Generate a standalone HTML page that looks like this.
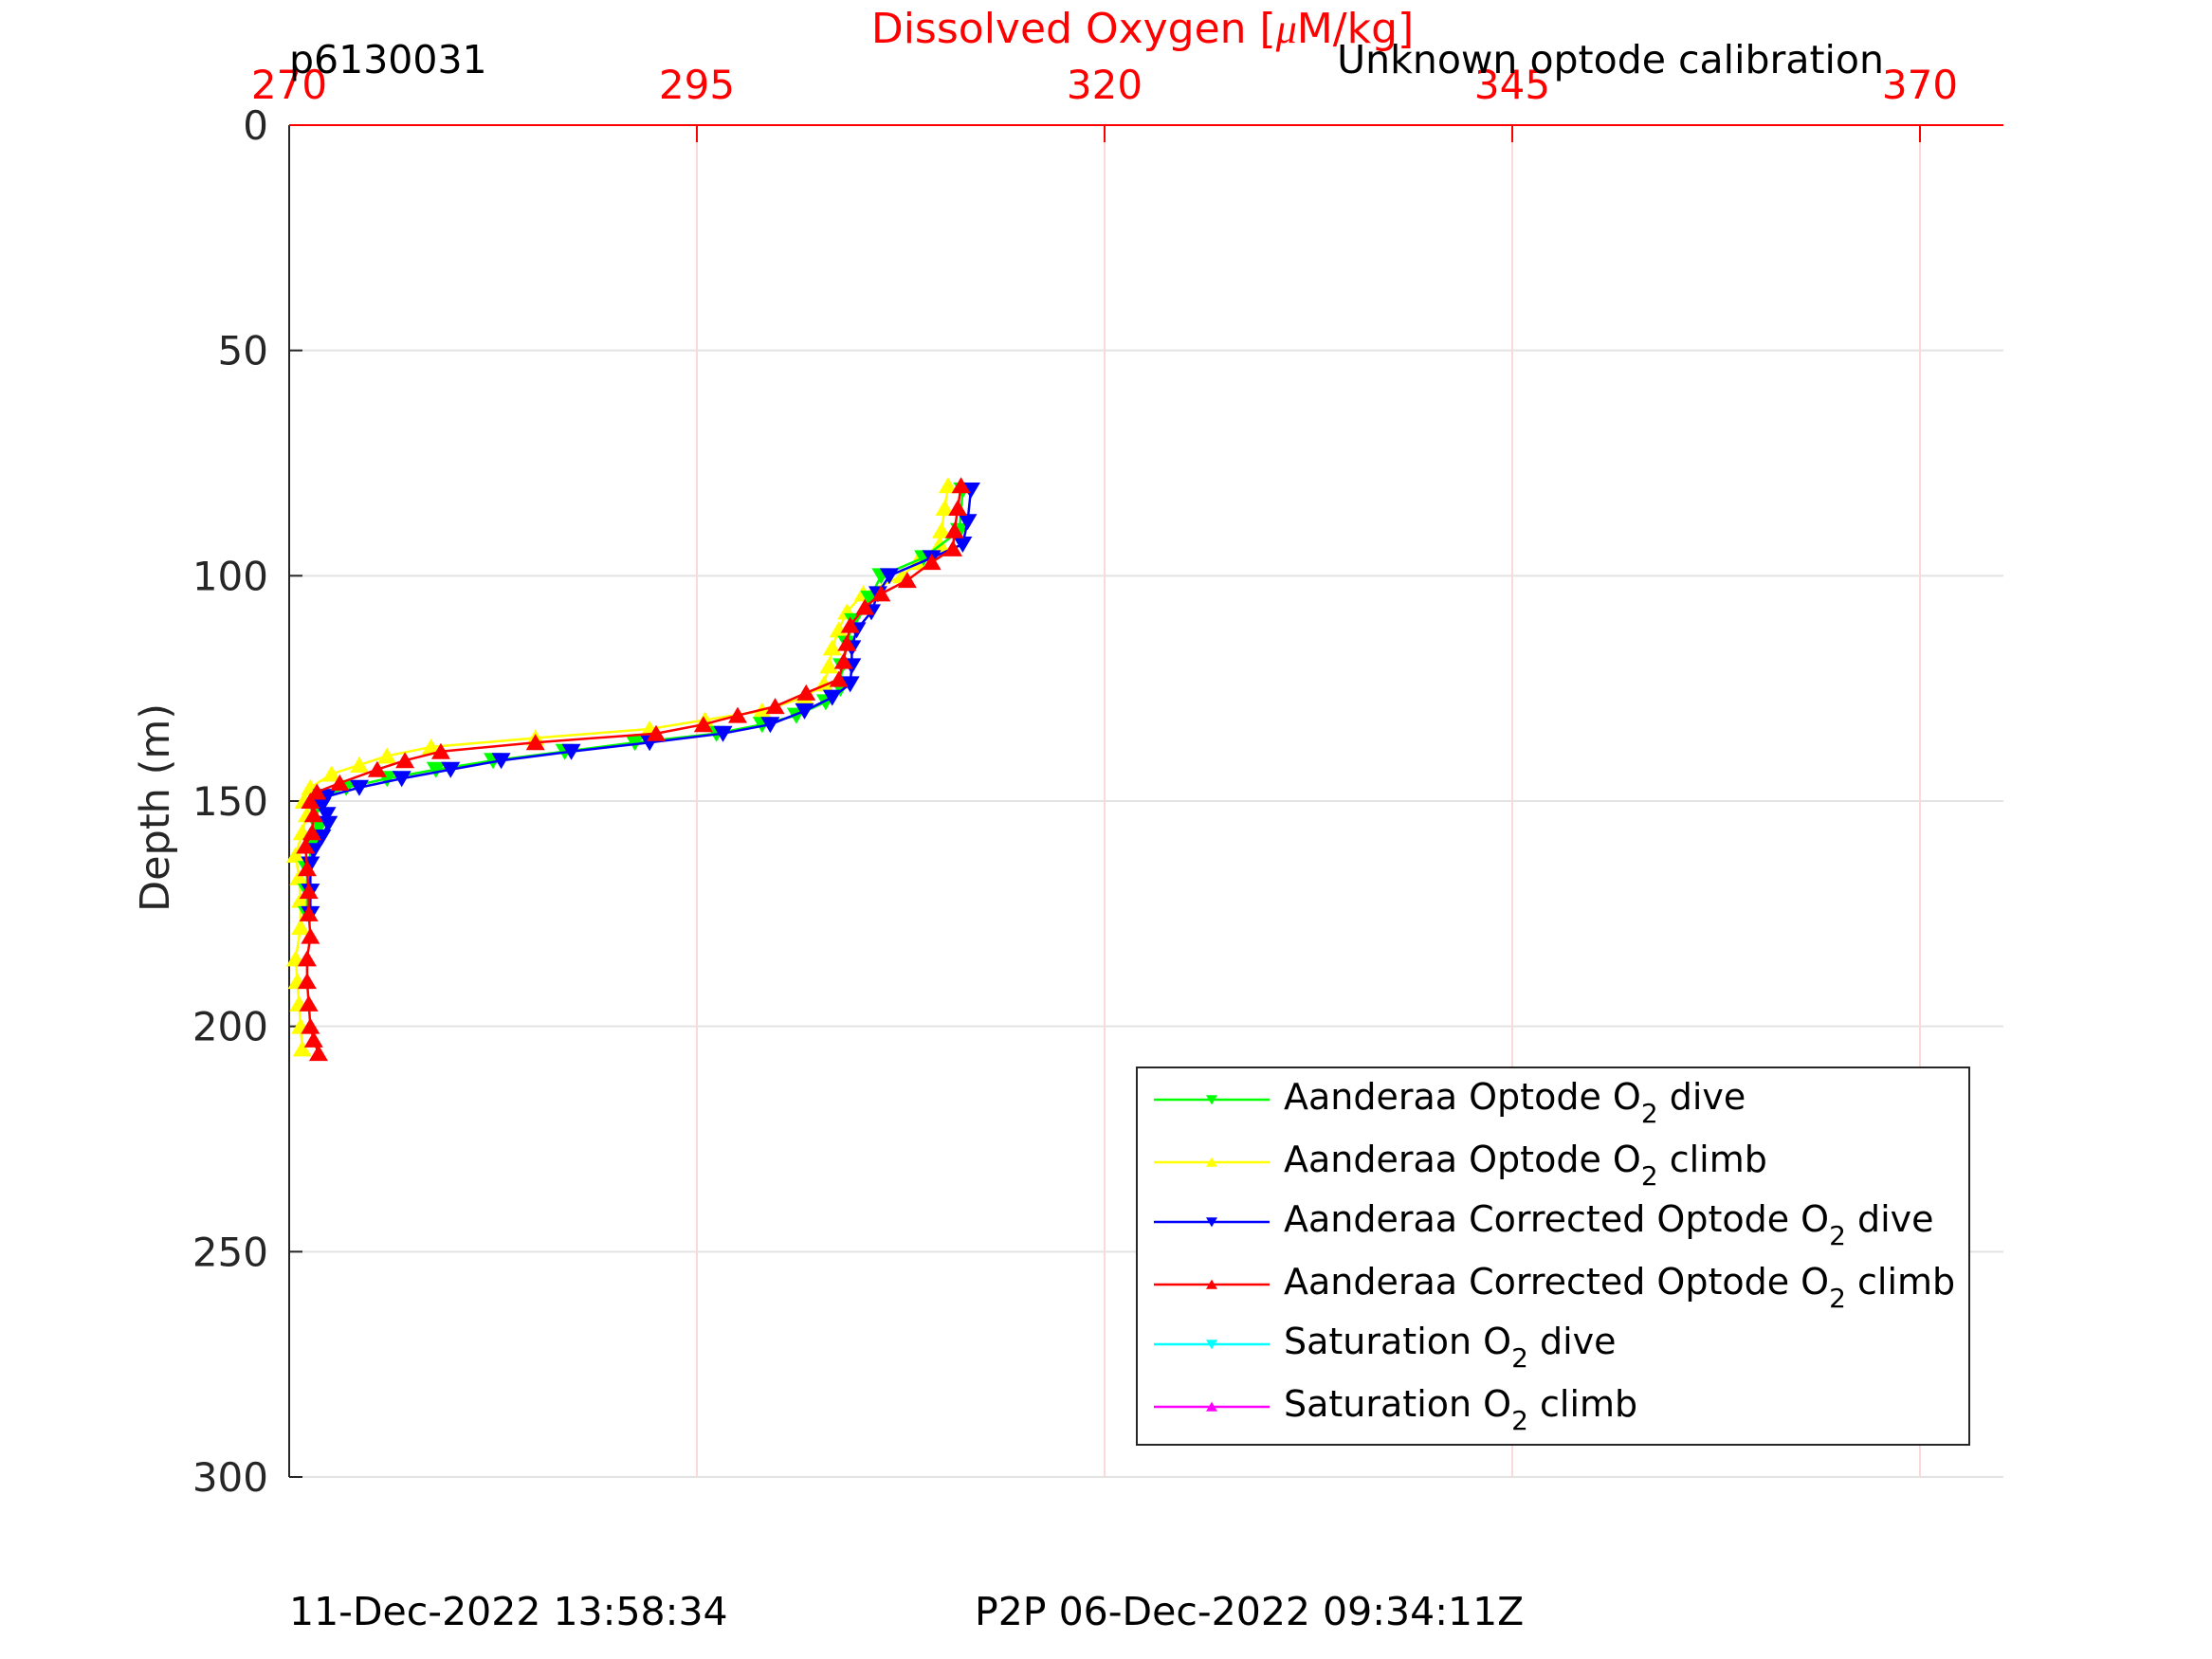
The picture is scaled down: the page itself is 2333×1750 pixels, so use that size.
<!DOCTYPE html>
<html><head><meta charset="utf-8"><style>
body{margin:0;background:#fff;}
svg{display:block;font-family:"DejaVu Sans","Liberation Sans",sans-serif;}
</style></head><body>
<svg id="chart" width="2333" height="1750" viewBox="0 0 2333 1750" xmlns="http://www.w3.org/2000/svg">
<rect width="2333" height="1750" fill="#fff"/>
<g id="grid"></g>
<g id="axes"></g>
<g id="series"></g>
<text x="1205" y="45" font-size="44" fill="#ff0000" text-anchor="middle">Dissolved Oxygen [<tspan font-style="italic" font-family="Liberation Serif, serif">μ</tspan>M/kg]</text>
<text x="305" y="77" font-size="41" fill="#000">p6130031</text>
<text x="1987" y="77" font-size="41" fill="#000" text-anchor="end">Unknown optode calibration</text>
<text x="0" y="0" font-size="43" fill="#262626" text-anchor="middle" transform="translate(178,852) rotate(-90)">Depth (m)</text>
<text x="305" y="1714" font-size="41" fill="#000">11-Dec-2022 13:58:34</text>
<text x="1028" y="1714" font-size="41" fill="#000">P2P 06-Dec-2022 09:34:11Z</text>
<g id="legend"></g>
</svg>
<script>
const xTicks=[270,295,320,345,370];
const yTicks=[0,50,100,150,200,250,300];
const greenDepth=[81,90,96,100,105,110,115,120,125,128,131,133,135,137,139,141,143,145,147,149,152,156,160,165,170,175];
const greenO2=[311.3,311.1,308.9,306.3,305.6,304.6,304.2,303.9,303.8,302.9,301.1,299.0,296.2,291.2,286.9,282.5,279.0,276.0,273.5,272.0,271.6,271.8,271.4,271.1,271.1,271.1];
const yellowDepth=[80,85,90,93,97,100,104,108,112,116,120,124,127,130,132,134,136,138,140,142,144,147,150,153,157,162,167,172,178,185,190,195,200,205];
const yellowO2=[310.4,310.2,310.0,309.9,308.5,307.6,305.2,304.2,303.7,303.3,303.1,302.8,301.6,299.0,295.5,292.1,285.1,278.7,276.0,274.3,272.6,271.3,270.9,271.1,270.8,270.4,270.6,270.7,270.7,270.4,270.5,270.6,270.7,270.8];
const blueDepth=[81,88,93,96,100,104,108,112,116,120,124,127,130,133,135,137,139,141,143,145,147,149,151,153,155,158,161,164,170,175];
const blueO2=[311.8,311.6,311.3,309.4,306.8,306.1,305.7,304.8,304.5,304.5,304.4,303.3,301.6,299.5,296.6,292.1,287.3,283.0,279.9,276.9,274.3,272.3,272.0,272.3,272.4,272.0,271.5,271.3,271.3,271.3];
const redDepth=[80,85,90,94,97,101,104,107,111,115,119,123,126,129,131,133,135,137,139,141,143,146,148,150,153,157,160,165,170,175,180,185,190,195,200,203,206];
const redO2=[311.2,311.0,310.8,310.7,309.4,307.9,306.3,305.3,304.4,304.2,304.0,303.7,301.7,299.8,297.5,295.4,292.5,285.1,279.3,277.1,275.4,273.1,271.7,271.3,271.5,271.4,271.0,271.1,271.2,271.2,271.3,271.1,271.1,271.2,271.3,271.5,271.8];

const NS='http://www.w3.org/2000/svg';
const L=305,R=2113,T=132,B=1558,XMIN=270,YMIN=0,YMAX=300;
function xs(v){return L+(v-XMIN)/(370-270)*(2025-305);}
function ys(d){return T+(d-YMIN)/(YMAX-YMIN)*(B-T);}
function mk(tag,attrs,parent){const e=document.createElementNS(NS,tag);for(const k in attrs)e.setAttribute(k,attrs[k]);parent.appendChild(e);return e;}
const grid=document.getElementById('grid'),axes=document.getElementById('axes'),ser=document.getElementById('series'),leg=document.getElementById('legend');

yTicks.forEach(t=>{
  const y=ys(t);
  if(t>0){const g=mk('line',{x1:L,x2:R,y1:y,y2:y,stroke:'#e3e3e3','stroke-width':2},grid);
  
  }
  const tk=mk('line',{x1:L,x2:L+14,y1:y,y2:y,stroke:'#262626','stroke-width':2},axes);
  
  
  const tx=mk('text',{x:283,y:y+15,'font-size':42,fill:'#262626','text-anchor':'end'},axes);
  tx.textContent=t;
  
  
});
xTicks.forEach(t=>{
  const x=xs(t);
  if(t>270){const g=mk('line',{x1:x,x2:x,y1:T,y2:B,stroke:'#fbd9d9','stroke-width':2},grid);
  
  }
  const tk=mk('line',{x1:x,x2:x,y1:T,y2:T+18,stroke:'#ff0000','stroke-width':2},axes);
  
  
  const tx=mk('text',{x:x,y:104,'font-size':42,fill:'#ff0000','text-anchor':'middle'},axes);
  tx.textContent=t;
  
  
});
const la=mk('line',{x1:L,x2:L,y1:T,y2:B,stroke:'#262626','stroke-width':2},axes);


const ta=mk('line',{x1:L,x2:R,y1:T,y2:T,stroke:'#ff0000','stroke-width':2},axes);



function tri(cx,cy,down,s){return down?`${cx-s},${cy-s*0.8} ${cx+s},${cy-s*0.8} ${cx},${cy+s*0.9}`:`${cx-s},${cy+s*0.8} ${cx+s},${cy+s*0.8} ${cx},${cy-s*0.9}`;}
function drawSeries(depths,vals,color,down,name){
  const g=mk('g',{},ser);
  
  
  const pts=depths.map((d,i)=>xs(vals[i])+','+ys(d)).join(' ');
  const pl=mk('polyline',{points:pts,fill:'none',stroke:color,'stroke-width':2.5},g);
  
  
  depths.forEach((d,i)=>{
    const p=mk('polygon',{points:tri(xs(vals[i]),ys(d),down,10),fill:color},g);
    
    
  });
}
drawSeries(yellowDepth,yellowO2,'#ffff00',false,'optode-climb-series');
drawSeries(greenDepth,greenO2,'#00ff00',true,'optode-dive-series');
drawSeries(blueDepth,blueO2,'#0000ff',true,'corrected-dive-series');
drawSeries(redDepth,redO2,'#ff0000',false,'corrected-climb-series');

const lb=mk('rect',{x:1199,y:1126,width:878,height:398,fill:'#fff',stroke:'#262626','stroke-width':2},leg);


const entries=[['Aanderaa Optode O','dive','#00ff00',true],['Aanderaa Optode O','climb','#ffff00',false],['Aanderaa Corrected Optode O','dive','#0000ff',true],['Aanderaa Corrected Optode O','climb','#ff0000',false],['Saturation O','dive','#00ffff',true],['Saturation O','climb','#ff00ff',false]];
const rowY=[1160,1226,1289,1355,1418,1484];
entries.forEach((e,i)=>{
  const y=rowY[i];
  const g=mk('g',{},leg);
  
  
  mk('line',{x1:1217,x2:1339,y1:y,y2:y,stroke:e[2],'stroke-width':2.5},g);
  mk('polygon',{points:tri(1278,y,e[3],6),fill:e[2]},g);
  const t=mk('text',{x:1354,y:y+10,'font-size':38,fill:'#000'},g);
  t.appendChild(document.createTextNode(e[0]));
  const s=document.createElementNS(NS,'tspan');s.setAttribute('font-size','28');s.setAttribute('dy','14');s.textContent='2';t.appendChild(s);
  const r=document.createElementNS(NS,'tspan');r.setAttribute('dy','-14');r.textContent=' '+e[1];t.appendChild(r);
});
</script>
</body></html>
